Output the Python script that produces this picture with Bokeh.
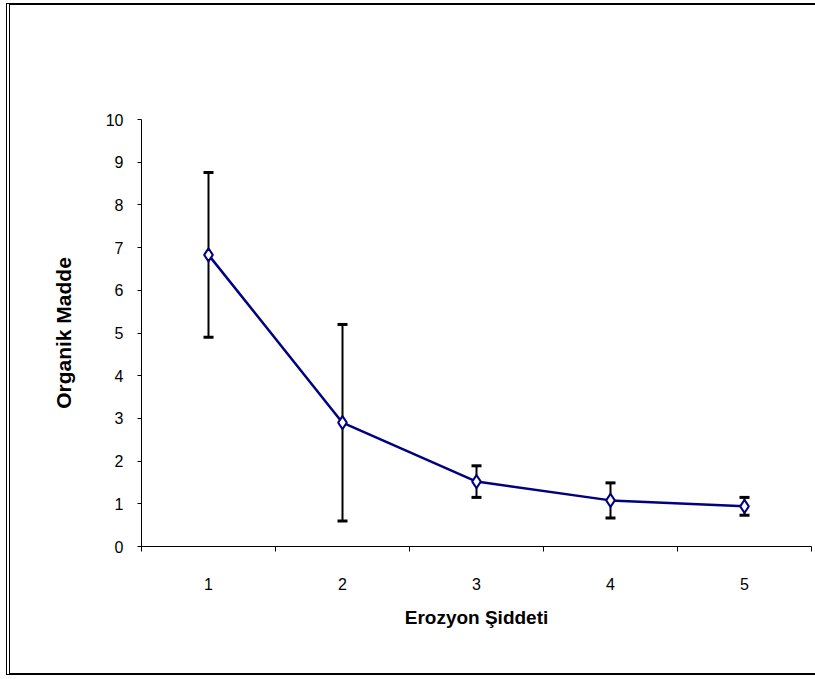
from bokeh.plotting import figure
from bokeh.models import ColumnDataSource, Whisker, TeeHead, FixedTicker, Range1d
from bokeh.embed import file_html
from bokeh.resources import INLINE

# Data
categories = [1, 2, 3, 4, 5]
means = [6.83, 2.90, 1.52, 1.08, 0.94]
errors = [1.93, 2.30, 0.37, 0.41, 0.21]
y_ticks = [0, 1, 2, 3, 4, 5, 6, 7, 8, 9, 10]
x_title = "Erozyon Şiddeti"
y_title = "Organik Madde"

upper = [m + e for m, e in zip(means, errors)]
lower = [m - e for m, e in zip(means, errors)]
src = ColumnDataSource(dict(x=categories, y=means, upper=upper, lower=lower))

FONT = "Liberation Sans"

p = figure(width=809, height=672, output_backend="svg", toolbar_location=None,
           x_range=Range1d(0.5, 5.5), y_range=Range1d(0, 10),
           min_border_left=131, min_border_right=8, min_border_top=114, min_border_bottom=131)
p.styles = {"margin-top": "3px", "margin-left": "6px", "overflow": "hidden",
            "border-left": "4px double black", "border-top": "2px solid black",
            "border-bottom": "2px solid black"}
p.outline_line_color = None
p.grid.visible = False
p.background_fill_color = "white"
p.border_fill_color = "white"

# x axis: labels at category centres, tick marks between categories
p.xaxis.ticker = FixedTicker(ticks=categories, minor_ticks=[c - 0.5 for c in categories] + [categories[-1] + 0.5])
p.xaxis.major_tick_in = 0
p.xaxis.major_tick_out = 0
p.xaxis.minor_tick_in = 0
p.xaxis.minor_tick_out = 5
p.xaxis.minor_tick_line_color = "black"
p.xaxis.axis_line_color = "black"
p.xaxis.major_label_standoff = 26
p.xaxis.axis_label = x_title
p.xaxis.axis_label_standoff = 14

# y axis
p.yaxis.ticker = FixedTicker(ticks=y_ticks)
p.yaxis.major_tick_in = 0
p.yaxis.major_tick_out = 4
p.yaxis.minor_tick_line_color = None
p.yaxis.axis_line_color = "black"
p.yaxis.major_tick_line_color = "black"
p.yaxis.major_label_standoff = 14
p.yaxis.axis_label = y_title
p.yaxis.axis_label_standoff = 28

for ax in (p.xaxis, p.yaxis):
    ax.major_label_text_font = FONT
    ax.major_label_text_font_size = "16px"
    ax.major_label_text_color = "black"
    ax.axis_label_text_font = FONT
    ax.axis_label_text_font_style = "bold"
    ax.axis_label_text_color = "black"
p.xaxis.axis_label_text_font_size = "19px"
p.yaxis.axis_label_text_font_size = "21px"

# error bars
w = Whisker(source=src, base="x", upper="upper", lower="lower",
            line_color="black", line_width=2, level="underlay",
            upper_head=TeeHead(size=10, line_color="black", line_width=3),
            lower_head=TeeHead(size=10, line_color="black", line_width=3))
p.add_layout(w)

p.line("x", "y", source=src, line_color="#000080", line_width=2.5)
p.scatter("x", "y", source=src, marker="diamond", size=13,
          line_color="#000080", line_width=2, fill_color="white")

open("out.html", "w").write(file_html(p, INLINE))
